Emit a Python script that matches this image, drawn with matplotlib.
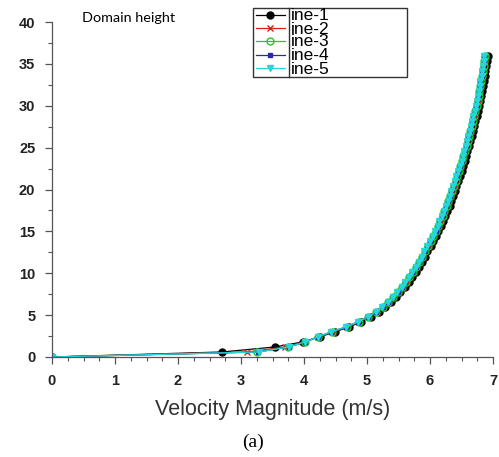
import matplotlib
matplotlib.use("Agg")
import matplotlib.pyplot as plt
from matplotlib.lines import Line2D
from matplotlib.patches import Rectangle
from matplotlib.ticker import MultipleLocator

heights = [0.0, 0.6, 1.2, 1.8, 2.4, 3.0, 3.6, 4.2, 4.8, 5.4, 6.0, 6.6, 7.2, 7.8, 8.4,
           9.0, 9.6, 10.2, 10.8, 11.4, 12.0, 12.6, 13.2, 13.8, 14.4, 15.0, 15.6, 16.2,
           16.8, 17.4, 18.0, 18.6, 19.2, 19.8, 20.4, 21.0, 21.6, 22.2, 22.8, 23.4, 24.0,
           24.6, 25.2, 25.8, 26.4, 27.0, 27.6, 28.2, 28.8, 29.4, 30.0, 30.6, 31.2, 31.8,
           32.4, 33.0, 33.6, 34.2, 34.8, 35.4, 36.0]

line1 = [0.0, 2.70, 3.54, 3.98, 4.25, 4.49, 4.72, 4.91, 5.06, 5.19, 5.29, 5.38, 5.46, 5.53,
         5.60, 5.66, 5.71, 5.77, 5.82, 5.87, 5.92, 5.96, 6.01, 6.05, 6.09, 6.13, 6.17, 6.20,
         6.24, 6.27, 6.31, 6.33, 6.36, 6.39, 6.42, 6.45, 6.47, 6.50, 6.52, 6.55, 6.57, 6.59,
         6.62, 6.64, 6.66, 6.68, 6.70, 6.72, 6.74, 6.76, 6.78, 6.80, 6.81, 6.82, 6.84, 6.85,
         6.87, 6.88, 6.89, 6.91, 6.92]
line2 = [0.0, 3.10, 3.70, 4.00, 4.23, 4.46, 4.69, 4.88, 5.03, 5.16, 5.26, 5.35, 5.43, 5.50,
         5.57, 5.63, 5.68, 5.74, 5.79, 5.84, 5.89, 5.93, 5.98, 6.02, 6.06, 6.10, 6.14, 6.17,
         6.21, 6.24, 6.28, 6.30, 6.33, 6.36, 6.39, 6.42, 6.44, 6.47, 6.49, 6.52, 6.54, 6.56,
         6.59, 6.61, 6.63, 6.65, 6.67, 6.69, 6.71, 6.73, 6.75, 6.77, 6.78, 6.79, 6.81, 6.82,
         6.84, 6.85, 6.86, 6.88, 6.89]
line3 = [0.0, 3.25, 3.75, 4.02, 4.23, 4.44, 4.68, 4.87, 5.02, 5.15, 5.25, 5.34, 5.42, 5.49,
         5.56, 5.62, 5.67, 5.73, 5.78, 5.83, 5.88, 5.92, 5.97, 6.01, 6.05, 6.09, 6.13, 6.16,
         6.20, 6.23, 6.27, 6.29, 6.32, 6.35, 6.38, 6.41, 6.43, 6.46, 6.48, 6.51, 6.53, 6.55,
         6.58, 6.60, 6.62, 6.64, 6.66, 6.68, 6.70, 6.72, 6.74, 6.76, 6.77, 6.78, 6.80, 6.81,
         6.83, 6.84, 6.85, 6.86, 6.87]
line4 = [0.0, 3.27, 3.76, 4.02, 4.22, 4.43, 4.67, 4.86, 5.01, 5.14, 5.25, 5.33, 5.41, 5.49,
         5.55, 5.61, 5.67, 5.72, 5.77, 5.82, 5.87, 5.92, 5.96, 6.00, 6.04, 6.09, 6.12, 6.15,
         6.19, 6.22, 6.26, 6.29, 6.31, 6.34, 6.37, 6.40, 6.43, 6.45, 6.47, 6.50, 6.52, 6.55,
         6.57, 6.59, 6.61, 6.63, 6.65, 6.67, 6.69, 6.71, 6.73, 6.75, 6.76, 6.78, 6.79, 6.80,
         6.82, 6.83, 6.84, 6.85, 6.86]
line5 = [0.0, 3.28, 3.76, 4.02, 4.22, 4.43, 4.67, 4.86, 5.01, 5.14, 5.24, 5.33, 5.41, 5.48,
         5.55, 5.61, 5.66, 5.72, 5.77, 5.82, 5.87, 5.91, 5.96, 6.00, 6.04, 6.08, 6.12, 6.15,
         6.19, 6.22, 6.26, 6.28, 6.31, 6.34, 6.37, 6.40, 6.42, 6.45, 6.47, 6.50, 6.52, 6.54,
         6.57, 6.59, 6.61, 6.63, 6.65, 6.67, 6.69, 6.71, 6.73, 6.75, 6.76, 6.77, 6.79, 6.80,
         6.82, 6.83, 6.84, 6.85, 6.86]

labels = ["ine-1", "ine-2", "ine-3", "ine-4", "ine-5"]
colors = ["black", "#d62020", "#22cc22", "#2a2aa8", "#22d8d8"]
markers = ["o", "x", "o", "s", "v"]
faces = ["black", "#d62020", "none", "#2a2aa8", "#22d8d8"]
msizes = [5.0, 4.0, 5.0, 3.0, 4.0]
x_ticks = [0, 1, 2, 3, 4, 5, 6, 7]
y_ticks = [0, 5, 10, 15, 20, 25, 30, 35, 40]

plt.rcParams["font.family"] = ["Liberation Sans", "DejaVu Sans"]

W, H = 499, 457
fig = plt.figure(figsize=(W / 100, H / 100), dpi=100)
ax = fig.add_axes([52 / W, 1 - 357 / H, (493 - 52) / W, (357 - 22) / H])

series = [line1, line2, line3, line4, line5]
for vals, c, m, fc, ms in zip(series, colors, markers, faces, msizes):
    ax.plot(vals, heights, color=c, lw=0.9, marker=m, ms=ms, mfc=fc, mec=c, mew=1.0)

ax.set_xlim(0, 7)
ax.set_ylim(0, 40)
ax.set_xticks(x_ticks)
ax.set_yticks(y_ticks)
ax.xaxis.set_minor_locator(MultipleLocator(0.25))
ax.yaxis.set_minor_locator(MultipleLocator(2.5))
for s in ["top", "right"]:
    ax.spines[s].set_visible(False)
for s in ["left", "bottom"]:
    ax.spines[s].set_color("#555555")
    ax.spines[s].set_linewidth(0.9)
ax.tick_params(which="major", length=5, width=0.9, color="#555555", labelsize=10.5,
               labelcolor="#222222", pad=7)
ax.tick_params(which="minor", length=3, width=0.8, color="#555555")
for lab in ax.get_xticklabels() + ax.get_yticklabels():
    lab.set_fontweight("bold")

ax.set_xlabel("Velocity Magnitude (m/s)", fontsize=15.5, color="#333333", labelpad=8)

fig.text(82 / W, 1 - 18 / H, "Domain height", fontsize=10.4, family=["Lato", "DejaVu Sans"],
         va="center", ha="left", color="black")
fig.text(253 / W, 1 - 442 / H, "(a)", fontsize=14, family=["Liberation Serif", "DejaVu Serif"],
         va="center", ha="center", color="black")


def fx(px):
    return px / W


def fy(py):
    return 1 - py / H


fig.patches.append(Rectangle((fx(253), fy(77)), fx(407) - fx(253), fy(8) - fy(77),
                             transform=fig.transFigure, fill=True, facecolor="white",
                             edgecolor="#333333", lw=1.0, zorder=5))
fig.lines.append(Line2D([fx(289), fx(289)], [fy(8), fy(77)], transform=fig.transFigure,
                        color="#333333", lw=1.0, zorder=6))
rows = [15, 28, 41, 55, 68]
for r, lab, c, m, fc, ms in zip(rows, labels, colors, markers, faces, msizes):
    fig.lines.append(Line2D([fx(256), fx(285)], [fy(r), fy(r)], transform=fig.transFigure,
                            color=c, lw=0.9, zorder=6))
    fig.lines.append(Line2D([fx(270)], [fy(r)], transform=fig.transFigure, color=c,
                            marker=m, ms=ms, mfc=fc, mec=c, mew=1.0, zorder=7))
    fig.text(fx(291), fy(r + 1), lab, fontsize=12.5, va="center", ha="left", color="black",
             zorder=7)

fig.savefig("out.png", dpi=100)
